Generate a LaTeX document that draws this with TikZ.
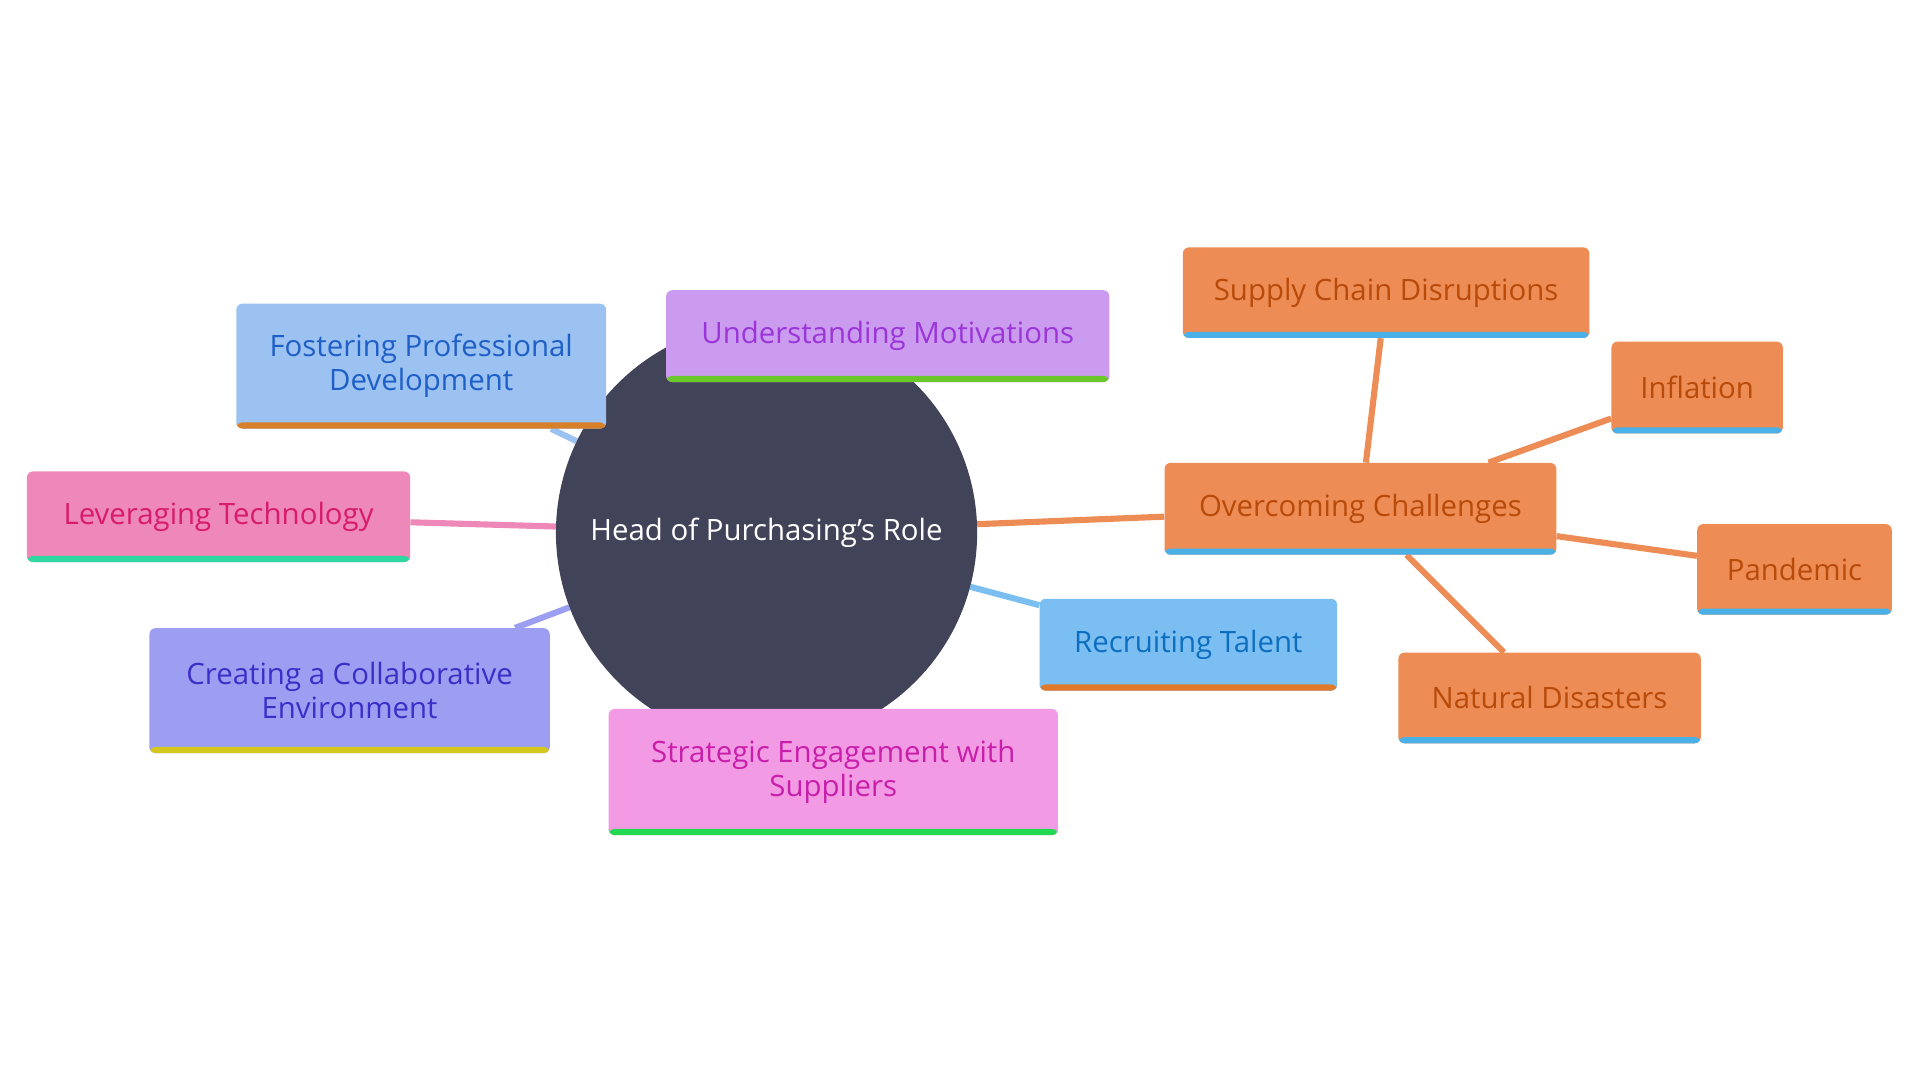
\documentclass[tikz,border=0pt]{standalone}
\usepackage{fontspec}
\setmainfont{Open Sans}
\usetikzlibrary{backgrounds}
\definecolor{hub}{HTML}{414459}
\definecolor{fosterfill}{HTML}{9BC2F0}
\definecolor{fostertext}{HTML}{1F5FC8}
\definecolor{fosterline}{HTML}{D87F2A}
\definecolor{motivfill}{HTML}{CB9BF0}
\definecolor{motivtext}{HTML}{9B35D8}
\definecolor{motivline}{HTML}{6CC72A}
\definecolor{techfill}{HTML}{EE88B8}
\definecolor{techtext}{HTML}{D81B6A}
\definecolor{techline}{HTML}{2ED8A0}
\definecolor{collabfill}{HTML}{9C9EF2}
\definecolor{collabtext}{HTML}{3B2FC8}
\definecolor{collabline}{HTML}{D4C81E}
\definecolor{supplfill}{HTML}{F29AE4}
\definecolor{suppltext}{HTML}{C81EAA}
\definecolor{supplline}{HTML}{22D850}
\definecolor{talentfill}{HTML}{7BBFF2}
\definecolor{talenttext}{HTML}{0D6EC0}
\definecolor{talentline}{HTML}{E07A2A}
\definecolor{orangefill}{HTML}{ED8D55}
\definecolor{orangetext}{HTML}{B84A0A}
\definecolor{bluestripe}{HTML}{4AB0E8}
\tikzset{
  topic/.style n args={3}{draw=none, rectangle, rounded corners=5pt, fill=#1, text=#2,
    align=center, font=\fontsize{24}{28}\selectfont, inner sep=0pt,
    path picture={\fill[#3] ([yshift=5pt]path picture bounding box.south west) rectangle (path picture bounding box.south east);}},
  link/.style={line width=5pt, draw=#1}
}
\begin{document}
\begin{tikzpicture}[x=1pt, y=-1pt]
        \useasboundingbox (0,0) rectangle (1568,882);
        % Define the hub
        \node[circle, fill=hub, text=white, minimum size=344pt, font=\fontsize{24}{28}\selectfont] (H) at (626,435) {Head of Purchasing's Role};

        % Define topics as rectangles
        \node[topic={fosterfill}{fostertext}{fosterline}, minimum width=302pt, minimum height=102pt] (F) at (344,299) {Fostering Professional\\Development};
        \node[topic={motivfill}{motivtext}{motivline}, minimum width=362pt, minimum height=75pt] (U) at (725,274.5) {Understanding Motivations};
        \node[topic={techfill}{techtext}{techline}, minimum width=313pt, minimum height=74pt] (L) at (178.5,422) {Leveraging Technology};
        \node[topic={collabfill}{collabtext}{collabline}, minimum width=327pt, minimum height=102pt] (C) at (285.5,564) {Creating a Collaborative\\Environment};
        \node[topic={supplfill}{suppltext}{supplline}, minimum width=367pt, minimum height=103pt] (S) at (680.5,630.5) {Strategic Engagement with\\Suppliers};
        \node[topic={talentfill}{talenttext}{talentline}, minimum width=243pt, minimum height=75pt] (R) at (970.5,526.5) {Recruiting Talent};
        \node[topic={orangefill}{orangetext}{bluestripe}, minimum width=320pt, minimum height=75pt] (O) at (1111,415.5) {Overcoming Challenges};

        % Define challenges
        \node[topic={orangefill}{orangetext}{bluestripe}, minimum width=332pt, minimum height=74pt] (O1) at (1132,239) {Supply Chain Disruptions};
        \node[topic={orangefill}{orangetext}{bluestripe}, minimum width=140pt, minimum height=75pt] (O2) at (1386,316.5) {Inflation};
        \node[topic={orangefill}{orangetext}{bluestripe}, minimum width=159pt, minimum height=74pt] (O3) at (1465.5,465) {Pandemic};
        \node[topic={orangefill}{orangetext}{bluestripe}, minimum width=247pt, minimum height=74pt] (O4) at (1265.5,570) {Natural Disasters};

        % Define edges
        \begin{scope}[on background layer]
        \draw[link=fosterfill] (H) -- (F);
        \draw[link=techfill] (H) -- (L);
        \draw[link=collabfill] (H) -- (C);
        \draw[link=talentfill] (H) -- (R);
        \draw[link=orangefill] (H) -- (O);
        \draw[link=orangefill] (O) -- (O1);
        \draw[link=orangefill] (O) -- (O2);
        \draw[link=orangefill] (O) -- (O3);
        \draw[link=orangefill] (O) -- (O4);
        \end{scope}
\end{tikzpicture}
\end{document}
